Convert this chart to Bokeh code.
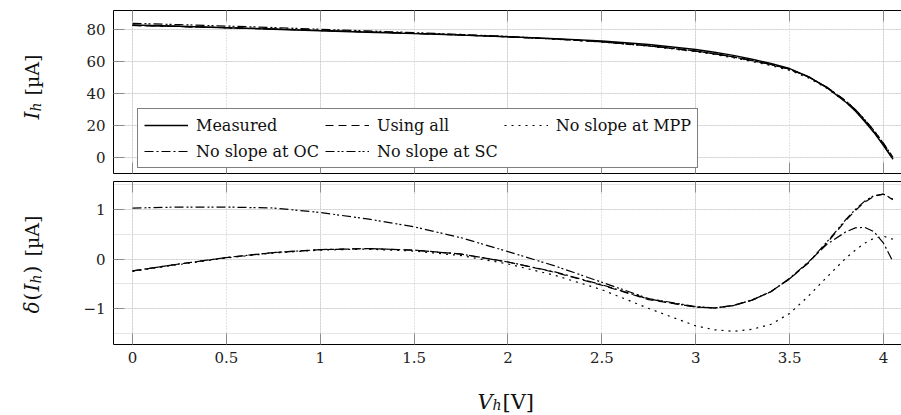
import math

from bokeh.core.properties import value
from bokeh.embed import file_html
from bokeh.layouts import column, row
from bokeh.models import (ColumnDataSource, CustomJSTickFormatter, FixedTicker, Grid,
                          Legend, LegendItem, LinearAxis, Range1d)
from bokeh.plotting import figure
from bokeh.resources import INLINE

# ---------------------------------------------------------------- data
# harvester voltage V_h [V]
voltage = [0.0, 0.25, 0.5, 0.75, 1.0, 1.25, 1.5, 1.75, 2.0, 2.25, 2.5, 2.75,
           3.0, 3.1, 3.2, 3.3, 3.4, 3.5, 3.6, 3.7, 3.8, 3.85, 3.9, 3.95, 4.0, 4.05]

# measured harvester current I_h [uA]
measured = [82.8, 82.0, 81.1, 80.2, 79.2, 78.3, 77.4, 76.5, 75.5, 74.3, 72.8, 70.6,
            67.5, 65.8, 63.8, 61.4, 58.8, 55.6, 50.5, 43.5, 34.5, 29.0, 22.5, 15.5, 7.5, -1.0]

# model error delta(I_h) [uA] for each fitted model
err_using_all = [-0.24, -0.10, 0.03, 0.13, 0.19, 0.21, 0.18, 0.10, -0.06, -0.27, -0.53, -0.82,
                 -0.97, -0.99, -0.94, -0.83, -0.66, -0.40, -0.08, 0.33, 0.78, 0.98, 1.15, 1.27, 1.31, 1.20]
err_no_mpp = [-0.25, -0.11, 0.02, 0.12, 0.18, 0.20, 0.16, 0.07, -0.10, -0.33, -0.62, -1.00,
              -1.35, -1.43, -1.46, -1.42, -1.32, -1.10, -0.75, -0.36, 0.02, 0.18, 0.32, 0.42, 0.46, 0.40]
err_no_oc = [-0.24, -0.10, 0.03, 0.13, 0.19, 0.21, 0.18, 0.10, -0.06, -0.26, -0.52, -0.81,
             -0.97, -0.99, -0.94, -0.83, -0.66, -0.39, -0.06, 0.30, 0.55, 0.63, 0.64, 0.55, 0.32, -0.05]
err_no_sc = [1.03, 1.05, 1.05, 1.03, 0.94, 0.81, 0.65, 0.43, 0.15, -0.14, -0.47, -0.80,
             -0.96, -0.99, -0.94, -0.83, -0.66, -0.40, -0.07, 0.35, 0.80, 1.00, 1.17, 1.28, 1.31, 1.21]

x_ticks = [0, 0.5, 1, 1.5, 2, 2.5, 3, 3.5, 4]
i_ticks = [0, 20, 40, 60, 80]
d_ticks = [-1, 0, 1]

# ---------------------------------------------------------------- styling
FONT = "DejaVu Serif"
LINE = "black"
TICK = "#8c8c8c"
GRID = "#c4c4c4"

series = [
    # label, error array, dash pattern
    ("Using all", err_using_all, "8 5"),
    ("No slope at MPP", err_no_mpp, "2 5"),
    ("No slope at OC", err_no_oc, "9 3 2 3"),
    ("No slope at SC", err_no_sc, "9 3 2 2 2 3"),
]

X_RANGE = (-0.1012, 4.0959)
STRIP_W = 60                  # width of the strip holding the rotated y labels
FRAME_LEFT = 113              # left edge of both plot frames on the page
PLOT_W = 901 - STRIP_W
INNER_LEFT = FRAME_LEFT - STRIP_W
TOTAL_H = 415
TOP_H = 177
BOT_H = 197
XLAB_H = TOTAL_H - TOP_H - BOT_H

src = ColumnDataSource(dict(
    v=voltage,
    meas=measured,
    **{f"fit{k}": [m + e for m, e in zip(measured, s[1])] for k, s in enumerate(series)},
    **{f"err{k}": s[1] for k, s in enumerate(series)},
))

num_fmt = CustomJSTickFormatter(code="""
const s = Math.abs(tick).toString();
return tick < 0 ? "\\u2212" + s : s;
""")
blank_fmt = CustomJSTickFormatter(code="return '';")


def add_axes(p, yticks, label_x):
    common = dict(major_tick_out=0, major_tick_in=11, minor_tick_line_color=None,
                  major_tick_line_color=TICK, major_tick_line_width=1,
                  major_label_text_font=FONT, major_label_text_font_size="15px",
                  major_label_text_color="#222222", axis_line_color=LINE, axis_line_width=1)
    hidden = dict(formatter=blank_fmt, major_label_text_font_size="0px", major_label_standoff=0)

    def axis(ticks, extra):
        return LinearAxis(ticker=FixedTicker(ticks=ticks), **{**common, **extra})

    p.add_layout(axis(x_ticks, dict(formatter=num_fmt, major_label_standoff=7) if label_x else hidden), "below")
    p.add_layout(axis(x_ticks, hidden), "above")
    p.add_layout(axis(yticks, dict(formatter=num_fmt, major_label_standoff=8)), "left")

    for dim, ticks in ((0, x_ticks), (1, yticks)):
        p.add_layout(Grid(dimension=dim, ticker=FixedTicker(ticks=ticks), grid_line_color=GRID,
                          grid_line_dash="1 2", grid_line_width=1))


def make_fig(height, y_range, top, bottom):
    return figure(width=PLOT_W, height=height, x_range=Range1d(*X_RANGE), y_range=Range1d(*y_range),
                  title=None, output_backend="svg", toolbar_location=None,
                  x_axis_location=None, y_axis_location=None,
                  min_border_left=INNER_LEFT, min_border_right=0,
                  min_border_top=top, min_border_bottom=bottom,
                  outline_line_color=None, background_fill_color="white",
                  border_fill_color="white")


def text_strip(width, height, left, pieces, angle=0.0):
    """A bare canvas holding a typeset axis title.

    The drawing area starts `left` pixels in; piece positions are pixels measured
    from that area's left edge and from the canvas top.
    """
    fw = width - left
    s = figure(width=width, height=height,
               x_range=Range1d(0, fw), y_range=Range1d(0, height),
               title=None, output_backend="svg", toolbar_location=None,
               x_axis_location=None, y_axis_location=None,
               min_border=0, min_border_left=left, min_border_right=0,
               min_border_top=0, min_border_bottom=0,
               outline_line_color=None, background_fill_color="white", border_fill_color="white")
    s.xgrid.visible = False
    s.ygrid.visible = False
    for text, px, py, size, style in pieces:
        s.text(x=[px], y=[height - py], text=[text], angle=angle,
               text_font=value(FONT), text_font_size=value(f"{size}px"),
               text_font_style=value(style), text_color="#111111",
               text_align="left", text_baseline="alphabetic")
    return s


# ---------------------------------------------------------------- top panel: I_h
top = make_fig(TOP_H, (-10.0, 91.875), 10, 4)
add_axes(top, i_ticks, label_x=False)

items = []
r = top.line("v", "meas", source=src, line_color=LINE, line_width=1.4)
items.append(LegendItem(label="Measured", renderers=[r]))
for k, (name, _, dash) in enumerate(series):
    r = top.line("v", f"fit{k}", source=src, line_color=LINE, line_width=1.2, line_dash=dash)
    items.append(LegendItem(label=name, renderers=[r]))

legend = Legend(items=items, location=(24, 5), orientation="horizontal", ncols=3,
                glyph_width=44, glyph_height=20, label_height=20, label_standoff=8,
                spacing=6, padding=6, margin=0,
                label_text_font=FONT, label_text_font_size="16px", label_text_color="#111111",
                border_line_color=LINE, border_line_width=1, background_fill_color="white",
                background_fill_alpha=1.0)
top.add_layout(legend)

# ---------------------------------------------------------------- bottom panel: delta(I_h)
bot = make_fig(BOT_H, (-1.727, 1.566), 4, BOT_H - 4 - 163)
add_axes(bot, d_ticks, label_x=True)

for k, (name, _, dash) in enumerate(series):
    bot.line("v", f"err{k}", source=src, line_color=LINE, line_width=1.2, line_dash=dash)

# ---------------------------------------------------------------- axis titles
ylabels = text_strip(STRIP_W, TOTAL_H, 0, [
    # I_h [uA]
    ("I", 31, 119, 20, "italic"),
    ("h", 35, 111, 14, "italic"),
    ("[µA]", 31, 95, 19, "normal"),
    # delta(I_h) [uA]
    ("δ", 31, 313, 20, "italic"),
    ("(", 31, 300, 20, "normal"),
    ("I", 31, 291, 20, "italic"),
    ("h", 35, 283, 14, "italic"),
    (")", 31, 273, 20, "normal"),
    ("[µA]", 31, 256, 19, "normal"),
], angle=math.pi / 2)

base = TOP_H + BOT_H
xlab = text_strip(PLOT_W, XLAB_H, INNER_LEFT, [
    ("V", 477 - FRAME_LEFT, 401 - base, 21, "italic"),
    ("h", 492 - FRAME_LEFT, 404 - base, 14, "italic"),
    ("[V]", 502 - FRAME_LEFT, 401 - base, 21, "normal"),
])

layout = row(ylabels, column(top, bot, xlab, spacing=0), spacing=0)
open("out.html", "w").write(file_html(layout, INLINE))
